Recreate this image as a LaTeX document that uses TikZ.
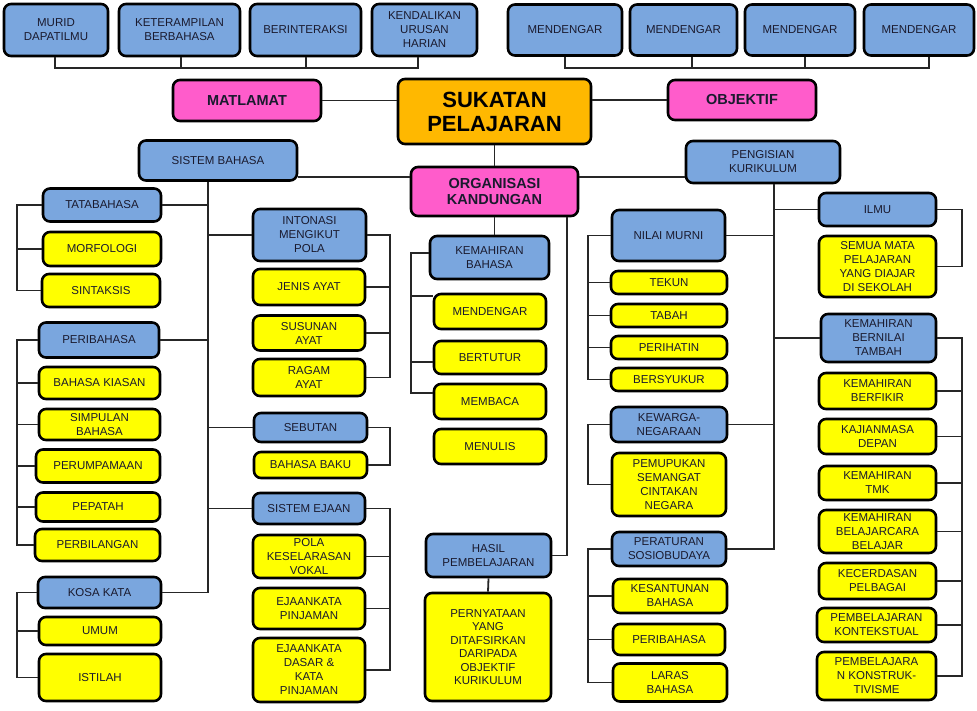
\documentclass[tikz,border=0pt]{standalone}
\usepackage{fontspec}
\setmainfont{Liberation Sans}
\usepackage{xcolor}
\usepackage{tikz}
\usetikzlibrary{positioning}

\definecolor{boxblue}{RGB}{122,166,222}
\definecolor{boxyellow}{RGB}{255,255,0}
\definecolor{boxpink}{RGB}{255,92,203}
\definecolor{boxorange}{RGB}{255,184,0}
\definecolor{inkdark}{RGB}{26,26,46}

\begin{document}
\begin{tikzpicture}[x=1pt, y=-1pt,
      mybox/.style={
         draw=black,
         line width=2.6pt,
         rounded corners=7pt,
         align=center,
         inner sep=1pt,
         text=inkdark,
         font=\fontsize{11.5}{14}\selectfont},
      bluebox/.style={mybox, fill=boxblue},
      yellowbox/.style={mybox, fill=boxyellow},
      pinkbox/.style={mybox, fill=boxpink, font=\bfseries\fontsize{14.5}{16}\selectfont},
      mainbox/.style={mybox, fill=boxorange, text=black, font=\bfseries\fontsize{22}{24}\selectfont},
      sz/.style 2 args={minimum width=#1pt, minimum height=#2pt},
      myline/.style={line width=1.8pt, draw=black!85}
      ]
      \fill[white] (0,0) rectangle (977,710);
      \useasboundingbox (0,0) rectangle (977,710);

      % top row
      \node[bluebox, sz={104}{52}] at (56,30) (murid) {MURID\\DAPATILMU};
      \node[bluebox, sz={121}{52}] at (179.5,30) (ketera) {KETERAMPILAN\\BERBAHASA};
      \node[bluebox, sz={111}{52}] at (305.5,30) (berint) {BERINTERAKSI};
      \node[bluebox, sz={105}{52}] at (424.5,30) (kendali) {KENDALIKAN\\URUSAN\\HARIAN};
      \node[bluebox, sz={114}{51}] at (565,30) (dgrA) {MENDENGAR};
      \node[bluebox, sz={107}{51}] at (683.5,30) (dgrB) {MENDENGAR};
      \node[bluebox, sz={110}{51}] at (800,30) (dgrC) {MENDENGAR};
      \node[bluebox, sz={110}{51}] at (919,30) (dgrD) {MENDENGAR};

      % centre
      \node[pinkbox, sz={148}{41}] at (247,100.5) (matlamat) {MATLAMAT};
      \node[mainbox, sz={193}{65}] at (494.5,111.5) (sukatan) {SUKATAN\\PELAJARAN};
      \node[pinkbox, sz={148}{40}] at (742,100) (objektif) {OBJEKTIF};
      \node[pinkbox, sz={167}{49}] at (494.5,191.5) (organisasi) {ORGANISASI\\KANDUNGAN};
      \node[bluebox, sz={158}{40}] at (218,160.5) (sisbah) {SISTEM BAHASA};
      \node[bluebox, sz={154}{42}] at (763,162) (pengisian) {PENGISIAN\\KURIKULUM};

      % sistem bahasa, left
      \node[bluebox, sz={118}{33}] at (102,205) (tata) {TATABAHASA};
      \node[yellowbox, sz={118}{34}] at (102,249) (morfo) {MORFOLOGI};
      \node[yellowbox, sz={118}{33}] at (101,290.5) (sintak) {SINTAKSIS};
      \node[bluebox, sz={120}{35}] at (99,340) (peri) {PERIBAHASA};
      \node[yellowbox, sz={121}{32}] at (99.5,383) (kiasan) {BAHASA KIASAN};
      \node[yellowbox, sz={121}{31}] at (99.5,424.5) (simpulan) {SIMPULAN\\BAHASA};
      \node[yellowbox, sz={124}{33}] at (98,466) (perump) {PERUMPAMAAN};
      \node[yellowbox, sz={124}{29}] at (98,507) (pepatah) {PEPATAH};
      \node[yellowbox, sz={125}{32}] at (97.5,545) (perbil) {PERBILANGAN};
      \node[bluebox, sz={123}{31}] at (99.5,592.5) (kosa) {KOSA KATA};
      \node[yellowbox, sz={122}{28}] at (100,631) (umum) {UMUM};
      \node[yellowbox, sz={122}{47}] at (100,677.5) (istilah) {ISTILAH};

      % sistem bahasa, right
      \node[bluebox, sz={113}{52}] at (309.5,235) (intonasi) {INTONASI\\MENGIKUT\\POLA};
      \node[yellowbox, sz={112}{36}] at (309,287) (jenis) {JENIS AYAT};
      \node[yellowbox, sz={112}{35}] at (309,333) (susunan) {SUSUNAN\\AYAT};
      \node[yellowbox, sz={112}{37}] at (309,377.5) (ragam) {RAGAM\\AYAT};
      \node[bluebox, sz={113}{29}] at (310.5,427.5) (sebutan) {SEBUTAN};
      \node[yellowbox, sz={113}{26}] at (310.5,465) (baku) {BAHASA BAKU};
      \node[bluebox, sz={112}{31}] at (309,508.5) (ejaan) {SISTEM EJAAN};
      \node[yellowbox, sz={112}{43}] at (309,556.5) (pola) {POLA\\KESELARASAN\\VOKAL};
      \node[yellowbox, sz={112}{41}] at (309,608.5) (pinjam) {EJAANKATA\\PINJAMAN};
      \node[yellowbox, sz={112}{64}] at (309,670) (dasar) {EJAANKATA\\DASAR \&\\KATA\\PINJAMAN};

      % organisasi kandungan
      \node[bluebox, sz={119}{43}] at (489.5,257.5) (kbahasa) {KEMAHIRAN\\BAHASA};
      \node[yellowbox, sz={112}{35}] at (490,311.5) (mdgr) {MENDENGAR};
      \node[yellowbox, sz={112}{33}] at (490,357.5) (bertutur) {BERTUTUR};
      \node[yellowbox, sz={112}{35}] at (490,401.5) (membaca) {MEMBACA};
      \node[yellowbox, sz={112}{35}] at (490,446.5) (menulis) {MENULIS};
      \node[bluebox, sz={125}{43}] at (488.5,555.5) (hasil) {HASIL\\PEMBELAJARAN};
      \node[yellowbox, sz={126}{108}, font=\fontsize{11.5}{13.4}\selectfont] at (488,647) (pernyataan)
           {PERNYATAAN\\YANG\\DITAFSIRKAN\\DARIPADA\\OBJEKTIF\\KURIKULUM};

      % pengisian kurikulum, left
      \node[bluebox, sz={113}{51}] at (668.5,235.5) (nilai) {NILAI MURNI};
      \node[yellowbox, sz={116}{23}] at (669,282.5) (tekun) {TEKUN};
      \node[yellowbox, sz={116}{23}] at (669,315.5) (tabah) {TABAH};
      \node[yellowbox, sz={116}{23}] at (669,347.5) (perihatin) {PERIHATIN};
      \node[yellowbox, sz={116}{23}] at (669,379.5) (syukur) {BERSYUKUR};
      \node[bluebox, sz={116}{35}] at (669,424.5) (kewarga) {KEWARGA-\\NEGARAAN};
      \node[yellowbox, sz={114}{63}] at (669,484.5) (pemupukan) {PEMUPUKAN\\SEMANGAT\\CINTAKAN\\NEGARA};
      \node[bluebox, sz={114}{34}] at (669,549) (peraturan) {PERATURAN\\SOSIOBUDAYA};
      \node[yellowbox, sz={114}{34}] at (670,596) (santun) {KESANTUNAN\\BAHASA};
      \node[yellowbox, sz={112}{31}] at (669,639.5) (peribahasaB) {PERIBAHASA};
      \node[yellowbox, sz={114}{38}] at (670,682.5) (laras) {LARAS\\BAHASA};

      % pengisian kurikulum, right
      \node[bluebox, sz={117}{33}] at (877.5,209.5) (ilmu) {ILMU};
      \node[yellowbox, sz={117}{61}] at (877.5,266.5) (semua) {SEMUA MATA\\PELAJARAN\\YANG DIAJAR\\DI SEKOLAH};
      \node[bluebox, sz={115}{48}] at (878.5,338) (kbernilai) {KEMAHIRAN\\BERNILAI\\TAMBAH};
      \node[yellowbox, sz={117}{36}] at (877.5,391) (berfikir) {KEMAHIRAN\\BERFIKIR};
      \node[yellowbox, sz={117}{35}] at (877.5,436.5) (kajian) {KAJIANMASA\\DEPAN};
      \node[yellowbox, sz={117}{34}] at (877.5,483) (tmk) {KEMAHIRAN\\TMK};
      \node[yellowbox, sz={117}{43}] at (877.5,531.5) (belajar) {KEMAHIRAN\\BELAJARCARA\\BELAJAR};
      \node[yellowbox, sz={117}{36}] at (877.5,581) (cerdas) {KECERDASAN\\PELBAGAI};
      \node[yellowbox, sz={119}{34}] at (876.5,625) (konteks) {PEMBELAJARAN\\KONTEKSTUAL};
      \node[yellowbox, sz={119}{48}] at (876.5,676) (konstruk) {PEMBELAJARA\\N KONSTRUK-\\TIVISME};

      % trunk and bus positions
      \coordinate (midbus) at (0,177);
      \coordinate (hasx) at (567,0);
      \coordinate (sbx) at (208,0);
      \coordinate (lbx) at (17,0);
      \coordinate (mrx) at (390,0);
      \coordinate (pkx) at (774,0);
      \coordinate (rlx) at (588,0);
      \coordinate (rrx) at (962,0);

      % top brackets
      \foreach \a/\sa/\b/\sb in {murid/-1pt/kendali/-6.5pt, dgrA/0pt/dgrD/10pt}
        \draw[myline] ([xshift=\sa]\a.south) -- ++(0,11) -| ([xshift=\sb]\b.south);
      \foreach \n/\s in {ketera/1.5pt, berint/0.5pt, dgrB/8.5pt, dgrC/5pt}
        \draw[myline] ([xshift=\s]\n.south) -- ++(0,11);

      % centre links
      \draw[myline] (matlamat.east) -- (matlamat.east -| sukatan.west);
      \draw[myline] (objektif.west) -- (objektif.west -| sukatan.east);
      \draw[myline] (sukatan.south) -- (organisasi.north);
      \draw[myline] (sisbah.east |- midbus) -- (organisasi.west |- midbus);
      \draw[myline] (organisasi.east |- midbus) -- (pengisian.west |- midbus);
      \draw[myline] (organisasi.south) -- (organisasi.south |- kbahasa.north);
      \draw[myline] (organisasi.south -| hasx) |- (hasil.east);
      \draw[myline] (hasil.south) -- (pernyataan.north);

      % sistem bahasa trunk
      \draw[myline] (sisbah.south -| sbx) |- (kosa.east);
      \foreach \n in {tata, peri}
        \draw[myline] (\n.east) -- (\n.east -| sbx);
      \foreach \n in {intonasi, sebutan, ejaan}
        \draw[myline] (\n.west) -- (\n.west -| sbx);

      % head/last/middle boxes of each bracket
      \foreach \h/\l/\m in {tata/sintak/{morfo}, peri/perbil/{kiasan,simpulan,perump,pepatah}, kosa/istilah/{umum}} {
        \draw[myline] (\h.west) -- (\h.west -| lbx) |- (\l.west);
        \foreach \k in \m
          \draw[myline] (\k.west) -- (\k.west -| lbx);
      }
      \foreach \h/\l/\m in {intonasi/ragam/{jenis,susunan}, ejaan/dasar/{pola,pinjam}} {
        \draw[myline] (\h.east) -- (\h.east -| mrx) |- (\l.east);
        \foreach \k in \m
          \draw[myline] (\k.east) -- (\k.east -| mrx);
      }
      \draw[myline] (sebutan.east) -- (sebutan.east -| mrx) |- (baku.east);

      % kemahiran bahasa bracket
      \draw[myline] ([yshift=4.5pt]kbahasa.west) -- ++(-18,0) |- ([yshift=8.5pt]membaca.west);
      \foreach \n/\s in {mdgr/15.5pt, bertutur/-4.5pt}
        \draw[myline] ([yshift=\s]\n.west) -- ++(-22,0);

      % pengisian kurikulum trunk
      \draw[myline] (pengisian.south -| pkx) |- (peraturan.east);
      \foreach \n in {nilai, kewarga}
        \draw[myline] (\n.east) -- (\n.east -| pkx);
      \foreach \n in {ilmu, kbernilai}
        \draw[myline] (\n.west) -- (\n.west -| pkx);

      \foreach \h/\l/\m in {nilai/syukur/{tekun,tabah,perihatin}, peraturan/laras/{santun,peribahasaB}} {
        \draw[myline] (\h.west) -- (\h.west -| rlx) |- (\l.west);
        \foreach \k in \m
          \draw[myline] (\k.west) -- (\k.west -| rlx);
      }
      \draw[myline] (kewarga.west) -- (kewarga.west -| rlx) |- (pemupukan.west);

      \draw[myline] (ilmu.east) -- (ilmu.east -| rrx) |- (semua.east);
      \draw[myline] (kbernilai.east) -- (kbernilai.east -| rrx) |- (konstruk.east);
      \foreach \k in {berfikir, kajian, tmk, belajar, cerdas, konteks}
        \draw[myline] (\k.east) -- (\k.east -| rrx);

    \end{tikzpicture}
\end{document}
